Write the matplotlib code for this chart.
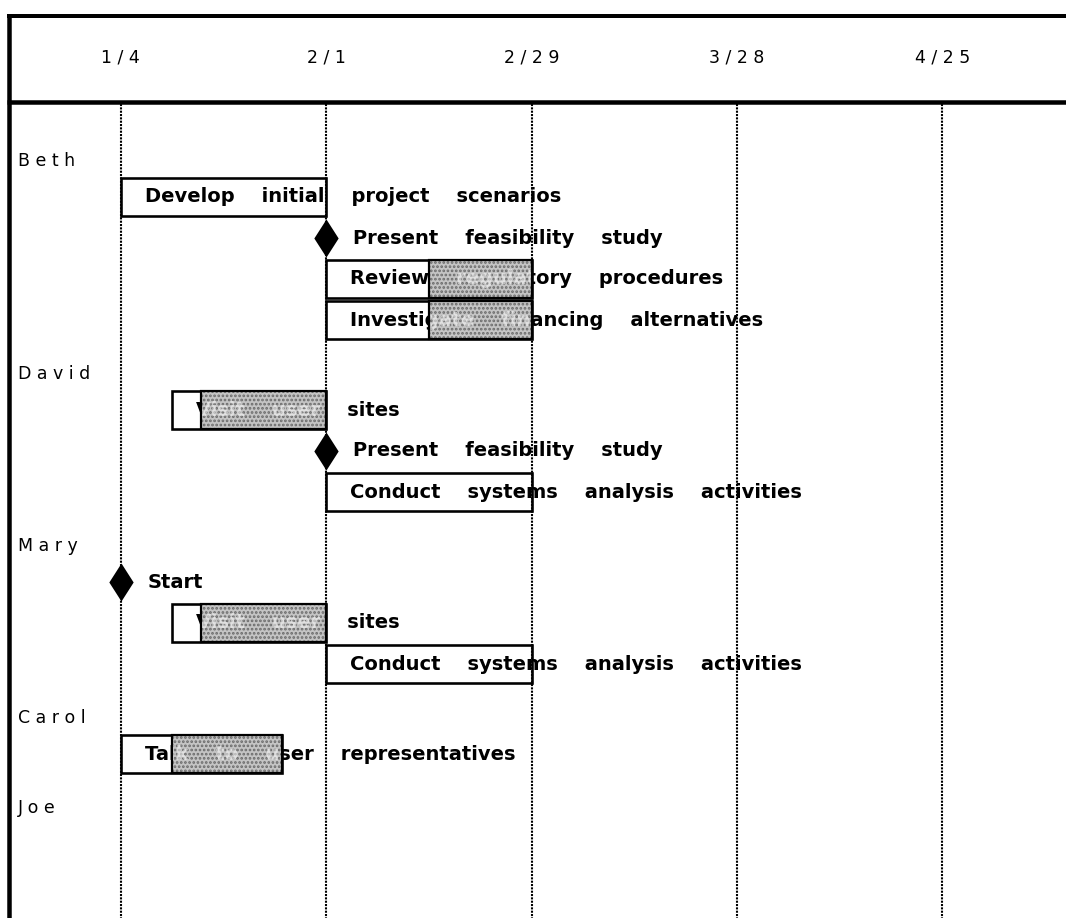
import numpy as np
import matplotlib
matplotlib.use('Agg')
import matplotlib.pyplot as plt
from matplotlib.patches import Rectangle
from matplotlib.path import Path

# 项目年份 (2/29 存在, 闰年)
YEAR = 1988

# 表头日期
tick_dates = ['1/4', '2/1', '2/29', '3/28', '4/25']

people = ['Beth', 'David', 'Mary', 'Carol', 'Joe']

task_owner = ['Beth', 'Beth', 'Beth', 'Beth',
              'David', 'David', 'David',
              'Mary', 'Mary', 'Mary',
              'Carol']
task_label = ['Develop initial project scenarios',
              'Present feasibility study',
              'Review regulatory procedures',
              'Investigate financing alternatives',
              'Visit user sites',
              'Present feasibility study',
              'Conduct systems analysis activities',
              'Start',
              'Visit user sites',
              'Conduct systems analysis activities',
              'Talk to user representatives']
task_start = ['1/4', '2/1', '2/1', '2/1', '1/11', '2/1', '2/1', '1/4', '1/11', '2/1', '1/4']
task_end = ['2/1', None, '2/29', '2/29', '2/1', None, '2/29', None, '2/1', '2/29', '1/26']
task_shade = [None, None, '2/15', '2/15', '1/15', None, None, None, '1/15', None, '1/11']


def to_day(s):
    m, d = s.split('/')
    origin = np.datetime64(f'{YEAR}-01-04')
    return int((np.datetime64(f'{YEAR}-{int(m):02d}-{int(d):02d}') - origin).astype(int))


W, H = 1066, 918
PX_PER_DAY = 7.336
X0 = 120.7          # 1/4 所在像素

plt.rcParams['hatch.linewidth'] = 1.3

fig = plt.figure(figsize=(W / 100, H / 100), dpi=100)
ax = fig.add_axes([0, 0, 1, 1])
ax.set_xlim(-X0 / PX_PER_DAY, (W - X0) / PX_PER_DAY)
ax.set_ylim(H, 0)
ax.axis('off')

px = 72 / 100  # 像素 -> 点

# 外框和表头
ax.axhline(15.5, xmin=7 / W, xmax=1, color='black', lw=4 * px, zorder=10, solid_capstyle='butt')
ax.axhline(102, xmin=7 / W, xmax=1, color='black', lw=4.5 * px, zorder=10, solid_capstyle='butt')
ax.axvline((9.5 - X0) / PX_PER_DAY, ymin=0, ymax=1 - 13.5 / H, color='black', lw=4.5 * px,
           zorder=10, solid_capstyle='butt')

for d in tick_dates:
    x = to_day(d)
    ax.text(x, 58, ' '.join(d), ha='center', va='center', fontsize=12.5,
            family='DejaVu Sans', color='black')
    ax.plot([x, x], [104, H], color='black', lw=1.5, ls=(0, (1, 0.6)), zorder=8)

# 行位置
name_y = {}
row_y = []
y = 161
for k, p in enumerate(people):
    if k > 0:
        y += 54
    name_y[p] = y
    first = True
    for i, o in enumerate(task_owner):
        if o == p:
            y += 36 if first else 41
            first = False
            row_y.append((i, y))
row_y = [v for _, v in sorted(row_y)]

for p in people:
    ax.text((18 - X0) / PX_PER_DAY, name_y[p], ' '.join(p), ha='left', va='center',
            fontsize=12.5, family='DejaVu Sans', color='black')

diamond = Path([(0, 0.5), (0.32, 0), (0, -0.5), (-0.32, 0), (0, 0.5)],
               [Path.MOVETO, Path.LINETO, Path.LINETO, Path.LINETO, Path.CLOSEPOLY])

bar_h = 38
for i, label in enumerate(task_label):
    yc = row_y[i]
    x0 = to_day(task_start[i])
    text = label.replace(' ', '    ')
    if task_end[i] is None:
        ax.plot([x0], [yc], marker=diamond, markersize=38 * px, color='black',
                markeredgewidth=0, zorder=9)
        ax.annotate(text, (x0, yc), xytext=(27 * px, 0), textcoords='offset points',
                    ha='left', va='center', fontsize=14, fontweight='bold',
                    family='DejaVu Sans', zorder=5)
        continue
    x1 = to_day(task_end[i])
    ax.add_patch(Rectangle((x0, yc - bar_h / 2), x1 - x0, bar_h, facecolor='white',
                           edgecolor='black', lw=2.6 * px, zorder=3))
    ax.annotate(text, (x0, yc), xytext=(24 * px, 0), textcoords='offset points',
                ha='left', va='center', fontsize=14, fontweight='bold',
                family='DejaVu Sans', zorder=5)
    if task_shade[i] is not None:
        xs = to_day(task_shade[i])
        # 点状灰色网纹
        shade = Rectangle((xs, yc - bar_h / 2), x1 - xs, bar_h, facecolor='#c4c4c4',
                          edgecolor='#6a6a6a', lw=0, hatch='....', zorder=6)
        ax.add_patch(shade)
        t = ax.annotate(text, (x0, yc), xytext=(24 * px, 0), textcoords='offset points',
                        ha='left', va='center', fontsize=14, fontweight='bold',
                        family='DejaVu Sans', color='white', alpha=0.5, zorder=7)
        t.set_clip_path(shade)
        ax.add_patch(Rectangle((xs, yc - bar_h / 2), x1 - xs, bar_h, facecolor='none',
                               edgecolor='black', lw=2.2 * px, zorder=7.5))

plt.savefig('out.png', dpi=100)
plt.close()
